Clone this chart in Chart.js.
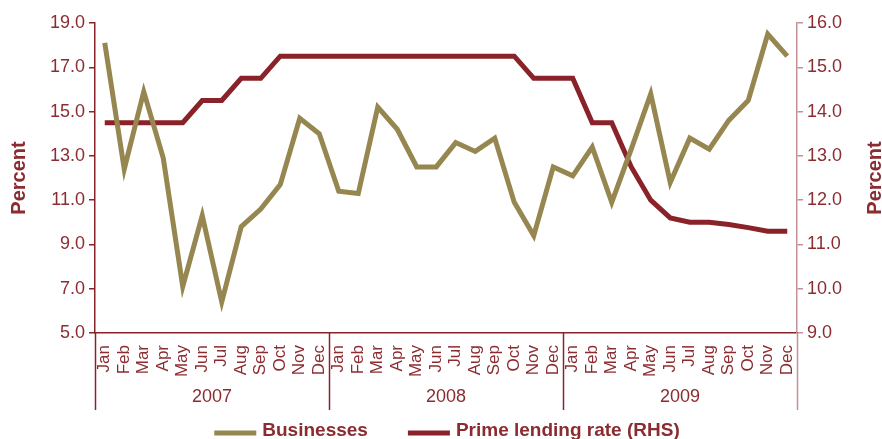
<!DOCTYPE html>
<html>
<head>
<meta charset="utf-8">
<script src="https://cdn.jsdelivr.net/npm/chart.js@4.4.1/dist/chart.umd.min.js"></script>
<style>
  html, body { margin: 0; padding: 0; background: #fff; overflow: hidden; }
  #wrap { width: 882px; height: 439px; }
</style>
</head>
<body>
<div id="wrap"><canvas id="rateChart"></canvas></div>
<script>
const months = ['Jan','Feb','Mar','Apr','May','Jun','Jul','Aug','Sep','Oct','Nov','Dec'];
const years = ['2007', '2008', '2009'];
const labels = years.flatMap(() => months);

const businesses = [
  18.1, 12.4, 15.9, 12.9, 7.1, 10.3, 6.4, 9.8, 10.6, 11.7, 14.7, 14.0,
  11.4, 11.3, 15.2, 14.2, 12.5, 12.5, 13.6, 13.2, 13.8, 10.9, 9.4, 12.5,
  12.1, 13.4, 10.9, 13.3, 15.8, 11.8, 13.8, 13.3, 14.6, 15.5, 18.5, 17.5
];
const primeRate = [
  13.75, 13.75, 13.75, 13.75, 13.75, 14.25, 14.25, 14.75, 14.75, 15.25, 15.25, 15.25,
  15.25, 15.25, 15.25, 15.25, 15.25, 15.25, 15.25, 15.25, 15.25, 15.25, 14.75, 14.75,
  14.75, 13.75, 13.75, 12.75, 12.0, 11.6, 11.5, 11.5, 11.45, 11.38, 11.3, 11.3
];

const RED = '#8a2329';
const TEXT = '#8b2c31';
const KHAKI = '#968750';
const PINK = '#c49196';
const FONT = '"Liberation Sans", Arial, sans-serif';

// year captions, separators under the month labels, right title and legend
const extras = {
  id: 'extras',
  afterDraw(chart) {
    const ctx = chart.ctx;
    const x = chart.scales.x;
    const bottom = 410;
    ctx.save();

    // separators between years
    const edges = [x.left];
    for (let i = 1; i < years.length; i++) {
      edges.push((x.getPixelForValue(i * 12 - 1) + x.getPixelForValue(i * 12)) / 2);
    }
    edges.push(x.right);
    ctx.lineWidth = 1.5;
    edges.forEach((px, i) => {
      ctx.strokeStyle = i === edges.length - 1 ? PINK : RED;
      ctx.beginPath();
      ctx.moveTo(Math.round(px) + 0.5, x.top);
      ctx.lineTo(Math.round(px) + 0.5, bottom);
      ctx.stroke();
    });

    ctx.fillStyle = TEXT;
    ctx.font = '18px ' + FONT;
    ctx.textAlign = 'center';
    ctx.textBaseline = 'middle';
    years.forEach((yr, i) => {
      ctx.fillText(yr, (edges[i] + edges[i + 1]) / 2, 397);
    });

    // right axis title, reading upwards like the left one
    ctx.save();
    ctx.translate(875, (chart.chartArea.top + chart.chartArea.bottom) / 2);
    ctx.rotate(-Math.PI / 2);
    ctx.font = 'bold 20px ' + FONT;
    ctx.fillText('Percent', 0, 0);
    ctx.restore();

    // legend
    ctx.font = 'bold 19px ' + FONT;
    ctx.textAlign = 'left';
    ctx.textBaseline = 'alphabetic';
    const sw = 42, gap = 6, itemGap = 40;
    const items = chart.data.datasets.map(ds => ({
      label: ds.label, color: ds.borderColor, w: ctx.measureText(ds.label).width
    }));
    const total = items.reduce((s, it) => s + sw + gap + it.w, 0) + itemGap * (items.length - 1);
    let lx = chart.width / 2 + 6 - total / 2;
    items.forEach(it => {
      ctx.fillStyle = it.color;
      ctx.fillRect(lx, 430.5, sw, 5);
      lx += sw + gap;
      ctx.fillStyle = TEXT;
      ctx.fillText(it.label, lx, 436);
      lx += it.w + itemGap;
    });
    ctx.restore();
  }
};

new Chart(document.getElementById('rateChart'), {
  type: 'line',
  data: {
    labels: labels,
    datasets: [
      {
        label: 'Businesses',
        data: businesses,
        borderColor: KHAKI,
        backgroundColor: KHAKI,
        borderWidth: 5,
        pointRadius: 0,
        tension: 0,
        yAxisID: 'y'
      },
      {
        label: 'Prime lending rate (RHS)',
        data: primeRate,
        borderColor: RED,
        backgroundColor: RED,
        borderWidth: 5,
        pointRadius: 0,
        tension: 0,
        yAxisID: 'y1'
      }
    ]
  },
  options: {
    responsive: true,
    maintainAspectRatio: false,
    animation: false,
    layout: { padding: { top: 23, left: 0, right: 0, bottom: 0 } },
    plugins: {
      legend: { display: false },
      tooltip: { enabled: false }
    },
    scales: {
      x: {
        offset: true,
        grid: { display: false },
        border: { display: true, color: RED, width: 1.5 },
        ticks: {
          color: TEXT,
          font: { family: FONT, size: 17 },
          minRotation: 90,
          maxRotation: 90,
          autoSkip: false,
          padding: 4
        },
        afterFit: s => { s.height = 106; }
      },
      y: {
        position: 'left',
        min: 5,
        max: 19,
        grid: { drawOnChartArea: false, drawTicks: true, tickLength: 6, color: RED, lineWidth: 1.5 },
        border: { display: true, color: RED, width: 1.5 },
        ticks: {
          stepSize: 2,
          color: TEXT,
          font: { family: FONT, size: 18 },
          padding: 4,
          callback: v => v.toFixed(1)
        },
        title: {
          display: true,
          text: 'Percent',
          color: TEXT,
          font: { family: FONT, size: 20, weight: 'bold', lineHeight: 1 },
          padding: { top: 9, bottom: 0 }
        },
        afterFit: s => { s.width = 95; }
      },
      y1: {
        position: 'right',
        min: 9,
        max: 16,
        grid: { drawOnChartArea: false, drawTicks: true, tickLength: 6, color: PINK, lineWidth: 1.5 },
        border: { display: true, color: PINK, width: 1.5 },
        ticks: {
          stepSize: 1,
          color: TEXT,
          font: { family: FONT, size: 18 },
          padding: 4,
          callback: v => v.toFixed(1)
        },
        afterFit: s => { s.width = 85; }
      }
    }
  },
  plugins: [extras]
});
</script>
</body>
</html>
